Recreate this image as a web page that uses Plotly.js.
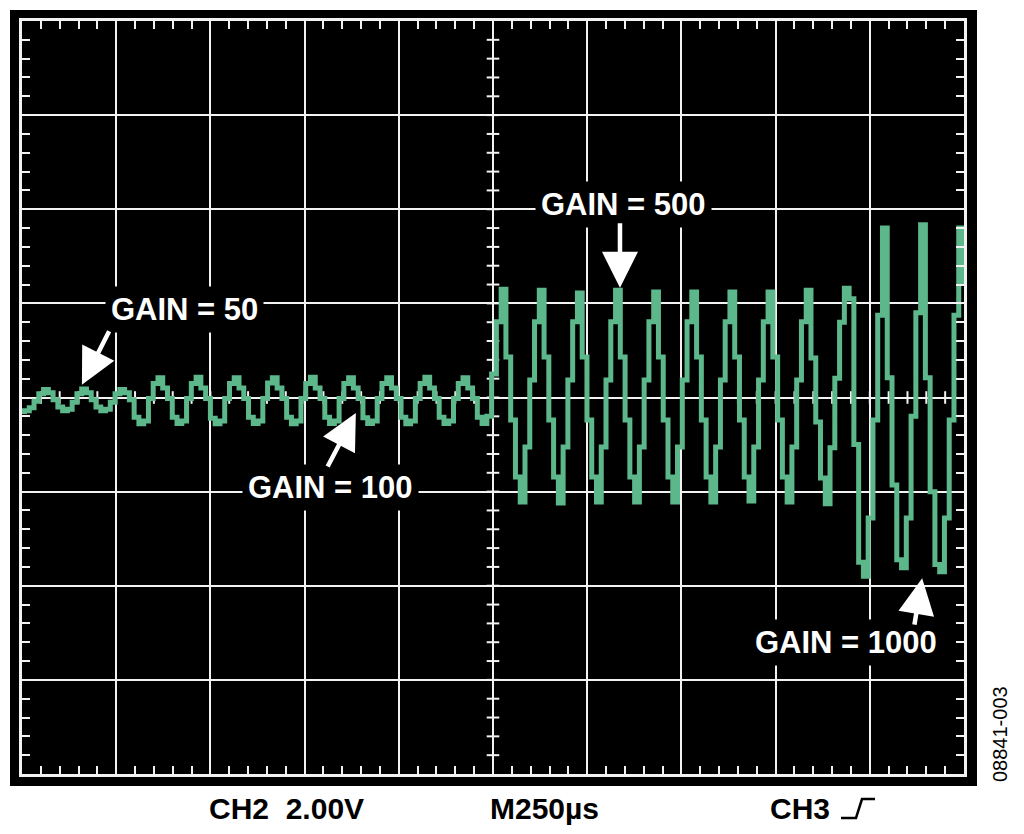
<!DOCTYPE html>
<html>
<head>
<meta charset="utf-8">
<script src="https://cdn.plot.ly/plotly-3.0.1.min.js"></script>
<style>
  html, body { margin: 0; padding: 0; background: #fff; }
  #scope { width: 1024px; height: 834px; }
</style>
</head>
<body>
<div id="scope"></div>
<script>
// ── scope capture: CH2, 2.00 V/div, 250 µs/div, sampled trace ──
const T0 = -6, DT = 12.65;   // µs, first sample time and sample spacing

// volts per sample
const gain50 = [
  -0.30, -0.28, -0.22, -0.08, 0.08, 0.17, 0.10, -0.05,
  -0.20, -0.28, -0.25, -0.10, 0.08, 0.18, 0.10, -0.05,
  -0.20, -0.28, -0.25, -0.10, 0.08, 0.17, 0.10, -0.05
];
const gain100 = [
  -0.42, -0.56, -0.50, -0.02, 0.30, 0.42, 0.20, -0.02,
  -0.42, -0.55, -0.50, -0.02, 0.30, 0.43, 0.20, -0.02,
  -0.44, -0.56, -0.50, -0.02, 0.30, 0.42, 0.20, -0.02,
  -0.42, -0.55, -0.50, -0.02, 0.31, 0.42, 0.20, -0.02,
  -0.42, -0.56, -0.50, -0.02, 0.30, 0.43, 0.20, -0.02,
  -0.42, -0.55, -0.50, -0.02, 0.30, 0.42, 0.20, -0.02,
  -0.43, -0.55, -0.50, -0.02, 0.30, 0.42, 0.20, -0.02,
  -0.42, -0.56, -0.50, -0.02, 0.30, 0.43, 0.20, -0.02,
  -0.42, -0.55, -0.50, -0.02, 0.30, 0.42, 0.20, -0.02,
  -0.42, -0.55, -0.40
];
const gain500 = [
  0.50, 1.61,
  2.30, 0.86, -0.48, -1.69, -2.22, -1.05, 0.37, 1.61,
  2.28, 0.86, -0.48, -1.69, -2.24, -1.05, 0.37, 1.61,
  2.22, 0.86, -0.48, -1.69, -2.22, -1.05, 0.37, 1.61,
  2.28, 0.86, -0.48, -1.69, -2.22, -1.05, 0.37, 1.61,
  2.24, 0.86, -0.48, -1.69, -2.22, -1.05, 0.37, 1.61,
  2.24, 0.86, -0.48, -1.69, -2.22, -1.05, 0.37, 1.61,
  2.24, 0.86, -0.48, -1.69, -2.20, -1.05, 0.37, 1.61,
  2.24, 0.86, -0.48, -1.69, -2.22, -1.05, 0.37, 1.61,
  2.28, 0.84, -0.52, -1.71, -2.26, -1.07, 0.41, 1.60,
  2.32
];
const gain1000 = [
  2.10, -1.00, -3.50, -3.80, -2.56, -0.48, 1.75, 3.60,
  0.42, -1.86, -3.45, -3.62, -2.56, -0.40, 1.80, 3.67,
  0.42, -2.00, -3.55, -3.70, -2.56, -0.48, 1.75, 3.60,
  2.45, 0.42
];
const signal = [...gain50, ...gain100, ...gain500, ...gain1000];

// graticule: 10 x 8 divisions
const TDIV = 250, VDIV = 2.00;
const XR = [0, 10 * TDIV], YR = [-4 * VDIV, 4 * VDIV];

const GREEN = "#5cb78b", WHITE = "#f2f2f2";
const W = 1024, H = 834;
const M = { l: 22, r: 60, t: 21, b: 60 };
const PW = W - M.l - M.r, PH = H - M.t - M.b;
const px = x => (x - M.l) / PW, py = y => (H - M.b - y) / PH;

// little crosses along the two centre lines
const cx = [], cy = [], vx = [], vy = [];
for (let t = XR[0] + TDIV / 5; t < XR[1]; t += TDIV / 5) { cx.push(t); cy.push(0); }
for (let v = YR[0] + VDIV / 5; v < YR[1] - 1e-9; v += VDIV / 5) { vx.push(5 * TDIV); vy.push(v); }

const traces = [
  { x: cx, y: cy, mode: "markers", hoverinfo: "skip",
    marker: { symbol: "line-ns", size: 9, line: { color: WHITE, width: 2 } } },
  { x: vx, y: vy, mode: "markers", hoverinfo: "skip",
    marker: { symbol: "line-ew", size: 9, line: { color: WHITE, width: 2 } } },
  { y: signal, x0: T0, dx: DT, mode: "lines", name: "CH2",
    line: { shape: "hv", color: GREEN, width: 5 } }
];

const ax = (range, dtick) => ({
  range, dtick, tick0: range[0], showgrid: true, gridcolor: WHITE, gridwidth: 2,
  zeroline: false, showline: true, linecolor: WHITE, linewidth: 3, mirror: "allticks",
  ticks: "inside", ticklen: 8, tickwidth: 2, tickcolor: WHITE, showticklabels: false,
  minor: { dtick: dtick / 5, ticks: "inside", ticklen: 8, tickwidth: 2, tickcolor: WHITE, showgrid: false },
  fixedrange: true
});

const FAM = "Liberation Sans, Arial, Helvetica, sans-serif";
const lbl = { family: FAM, size: 31, color: "#fff", weight: "bold" };
const gainTxt = (text, x, y) => ({ text, x, y, showarrow: false, font: lbl, bgcolor: "#000", borderpad: 5, xanchor: "center", yanchor: "middle" });
const arrow = (x, y, dx, dy) => ({ text: "", x, y, ax: dx, ay: dy, showarrow: true, arrowhead: 2, arrowsize: 1.6, arrowwidth: 4.5, arrowcolor: "#fff", standoff: 0 });
const foot = { family: FAM, size: 30, color: "#000", weight: "bold" };
const footTxt = (text, x) => ({ text, xref: "paper", yref: "paper", x: px(x), y: py(808), xanchor: "left", yanchor: "middle", showarrow: false, font: foot });

const layout = {
  width: W, height: H, margin: { ...M, pad: 0 },
  paper_bgcolor: "#fff", plot_bgcolor: "#000", showlegend: false,
  xaxis: ax(XR, TDIV), yaxis: ax(YR, VDIV),
  shapes: [
    { type: "rect", xref: "paper", yref: "paper", layer: "below",
      x0: px(10), x1: px(977), y0: py(786), y1: py(10), fillcolor: "#000", line: { width: 0 } },
    { type: "path", xref: "paper", yref: "paper",
      path: `M ${px(841)} ${py(818)} L ${px(856)} ${py(818)} L ${px(862)} ${py(799)} L ${px(875)} ${py(799)}`,
      line: { color: "#000", width: 2.5 } }
  ],
  annotations: [
    gainTxt("GAIN = 50", 432, 1.88),
    gainTxt("GAIN = 100", 820, -1.92),
    gainTxt("GAIN = 500", 1595, 4.11),
    gainTxt("GAIN = 1000", 2187, -5.2),
    arrow(159, 0.27, 28, -55),
    arrow(886, -0.33, -29, 55),
    arrow(1587, 2.33, 0, -66),
    arrow(2389, -3.84, -8, 48),
    footTxt("CH2&nbsp;&nbsp;2.00V", 207),
    footTxt("M250µs", 488),
    footTxt("CH3", 768),
    { text: "08841-003", xref: "paper", yref: "paper", x: px(1000), y: py(734), xanchor: "center", yanchor: "middle", textangle: -90, showarrow: false,
      font: { family: FAM, size: 20, color: "#000" } }
  ]
};

Plotly.newPlot("scope", traces, layout, { displayModeBar: false, staticPlot: true });
</script>
</body>
</html>
